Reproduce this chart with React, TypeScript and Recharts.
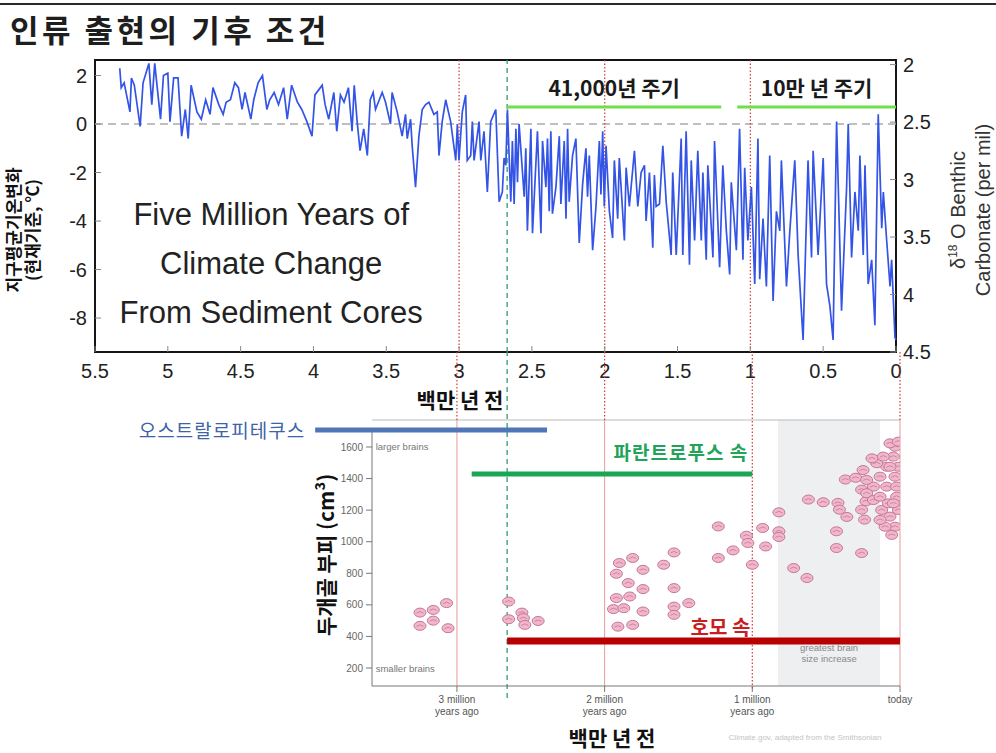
import React from 'react';
import {
  ComposedChart,
  Line,
  Scatter,
  XAxis,
  YAxis,
  ReferenceLine,
  ReferenceArea,
  ReferenceDot
} from 'recharts';

const SANS = '"Liberation Sans", Arial, sans-serif';
const KR = '"Noto Sans CJK KR", sans-serif';

// 퇴적물 코어 기록: [백만 년 전, 기온 변화 ℃]
const recordEarly: [number, number][] = [
  [5.33, 2.3], [5.32, 1.5], [5.3, 1.7], [5.26, 0.5], [5.25, 1.9], [5.23, 1.6], [5.19, -0.1], [5.17, 1.7],
  [5.13, 2.5], [5.11, 0.8], [5.09, 2.5], [5.05, 0.2], [5.03, 2.0], [5.0, 2.1], [4.985, 0.1], [4.96, 1.9],
  [4.93, 1.9], [4.905, -0.5], [4.88, 0.6], [4.86, -0.6], [4.84, 1.6], [4.8, 0.5], [4.77, 0.2], [4.74, 1.0],
  [4.71, 0.4], [4.69, 1.5], [4.65, 0.8], [4.62, 0.4], [4.6, 0.9], [4.57, 1.0], [4.54, 1.7], [4.515, 1.5],
  [4.49, 0.6], [4.47, 1.3], [4.43, 0.2], [4.41, 1.0], [4.38, 1.7], [4.35, 2.0], [4.32, 0.6], [4.3, 1.0],
  [4.27, 1.3], [4.24, 0.8], [4.205, 1.5], [4.18, 0.2], [4.15, 1.6], [4.11, 0.9], [4.08, 0.6], [4.045, 0.1],
  [4.01, -0.5], [3.99, 1.2], [3.94, 1.6], [3.92, 0.8], [3.895, 0.2], [3.86, 1.3], [3.84, -0.3], [3.815, 1.2],
  [3.79, 0.9], [3.76, 1.5], [3.735, -0.3], [3.72, 1.6], [3.7, 0.1], [3.68, -1.1], [3.655, -0.2], [3.63, -1.3],
  [3.61, 1.0], [3.59, 1.3]
];

const recordMiddle: [number, number][] = [
  [3.574, 0.6], [3.528, 1.3], [3.505, 0.9], [3.471, 0.0], [3.46, 1.3], [3.425, 0.5], [3.391, -0.5], [3.368, 0.4],
  [3.356, -0.6], [3.333, 0.2], [3.322, -0.9], [3.299, -2.6], [3.276, -0.5], [3.253, 0.6], [3.23, 0.8], [3.207, 0.9],
  [3.173, 0.4], [3.15, 0.5], [3.138, -1.3], [3.116, 0.1], [3.092, 1.0], [3.058, 0.1], [3.023, -1.5], [3.012, 0.0],
  [3.001, -1.5], [2.978, 0.5], [2.955, 1.2], [2.944, -1.5], [2.92, -1.3], [2.909, 0.1], [2.897, -1.5], [2.863, 0.1],
  [2.851, -1.5], [2.829, -0.3], [2.806, -2.8], [2.783, 0.1], [2.748, 0.6], [2.725, -3.2], [2.703, -2.8], [2.691, -1.4],
  [2.679, -1.7], [2.668, 0.6], [2.645, -3.2], [2.634, -0.7], [2.622, -3.3], [2.61, -0.2], [2.599, -2.4], [2.588, 0.0],
  [2.553, -3.0], [2.542, -1.0], [2.531, -4.4], [2.507, -0.2], [2.496, -4.5], [2.462, -0.3], [2.438, -4.5], [2.427, -0.7],
  [2.404, -2.6], [2.393, -0.6], [2.381, -3.6], [2.37, -0.3], [2.359, -3.7], [2.335, -2.6], [2.312, -0.5], [2.301, -3.3],
  [2.278, -0.7], [2.266, -3.9], [2.255, -0.2], [2.244, -3.2], [2.221, -1.3], [2.198, -0.6], [2.175, -4.9], [2.152, -2.5],
  [2.129, -1.0], [2.118, -3.0], [2.106, -1.3], [2.083, -5.2], [2.06, -3.4], [2.037, -0.7], [2.026, -2.9], [2.014, -0.3],
  [2.003, -3.4], [1.991, -0.9], [1.968, -3.6], [1.946, -4.7], [1.934, -1.5], [1.911, -3.9], [1.9, -1.4], [1.865, -4.8],
  [1.853, -1.8], [1.831, -3.4], [1.796, -1.1], [1.773, -3.4]
];

const recordLate: [number, number][] = [
  [1.75, -2.0], [1.727, -1.7], [1.716, -4.0], [1.693, -2.0], [1.67, -5.1], [1.659, -2.1], [1.647, -3.4], [1.624, -3.3],
  [1.601, -0.9], [1.578, -3.2], [1.544, -5.4], [1.533, -2.0], [1.509, -5.4], [1.475, -0.6], [1.464, -5.4], [1.441, -0.3],
  [1.418, -5.8], [1.406, -1.5], [1.383, -4.8], [1.361, -1.1], [1.337, -4.8], [1.326, -2.0], [1.303, -5.6], [1.292, -1.7],
  [1.257, -5.5], [1.246, -0.7], [1.211, -5.9], [1.189, -1.7], [1.165, -4.4], [1.142, -6.2], [1.131, -2.4], [1.096, -5.2],
  [1.074, -0.2], [1.051, -5.6], [1.039, -1.8], [1.017, -4.8], [0.993, -2.6], [0.97, -6.6], [0.948, -0.6], [0.936, -6.4],
  [0.913, -3.9], [0.89, -6.7], [0.867, -1.3], [0.844, -7.3], [0.821, -3.6], [0.798, -4.4], [0.787, -1.5], [0.752, -6.7],
  [0.73, -4.5], [0.695, -1.5], [0.672, -5.4], [0.638, -8.9], [0.604, -1.5], [0.58, -5.5], [0.569, -1.1], [0.535, -5.4],
  [0.5, -1.4], [0.477, -6.6], [0.454, -7.5], [0.432, -8.9], [0.408, 0.1], [0.374, -7.7], [0.339, -2.6], [0.328, 0.0],
  [0.305, -5.5], [0.282, -2.8], [0.259, -4.4], [0.248, -1.3], [0.225, -5.4], [0.213, -1.7], [0.191, -6.6], [0.167, -5.6],
  [0.145, -8.3], [0.122, 0.4], [0.098, -4.3], [0.087, -2.8], [0.064, -4.8], [0.041, -6.7], [0.03, -5.6], [0.007, -8.8],
  [0.0, -8.9]
];

const AGE_TICKS = [5.5, 5, 4.5, 4, 3.5, 3, 2.5, 2, 1.5, 1, 0.5, 0];
const TEMP_TICKS = [2, 0, -2, -4, -6, -8];
const D18O_TICKS = [2, 2.5, 3, 3.5, 4, 4.5];
const MILESTONES = [3, 2, 1];
const GENUS_START = 2.67;

const cycles = [
  { label: '41,000년 주기', from: 2.67, to: 1.2 },
  { label: '10만 년 주기', from: 1.09, to: 0 }
];

const COVER_LINES = ['Five Million Years of', 'Climate Change', 'From Sediment Cores'];

// 두개골 부피 화석 기록: [백만 년 전, cm³]
const australopithBrains: [number, number][] = [
  [3.25, 551], [3.16, 568], [3.07, 611], [3.25, 467], [3.16, 500], [3.06, 452],
  [2.65, 621], [2.65, 509], [2.56, 551], [2.55, 516], [2.54, 473], [2.45, 498]
];
const earlyHomoBrains: [number, number][] = [
  [1.9, 865], [1.81, 897], [1.92, 797], [1.74, 822], [1.6, 854], [1.53, 932], [1.84, 738], [1.74, 700],
  [1.53, 706], [1.92, 643], [1.83, 653], [1.94, 573], [1.87, 579], [1.74, 558], [1.53, 589], [1.53, 537],
  [1.43, 611], [1.91, 462], [1.81, 473]
];
const midHomoBrains: [number, number][] = [
  [1.23, 1097], [1.23, 897], [1.13, 945], [1.04, 1038], [1.03, 992], [1.0, 854], [0.93, 1087], [0.91, 970],
  [0.82, 1186], [0.82, 1066], [0.82, 1030], [0.72, 833], [0.63, 770],
  [0.62, 1267], [0.52, 1250], [0.42, 1246], [0.41, 1203], [0.36, 1157], [0.43, 1066], [0.43, 960], [0.26, 928],
  [0.37, 1394], [0.3, 1405], [0.26, 1330], [0.23, 1256], [0.24, 1140], [0.26, 1203]
];
const recentBrains: [number, number][] = [
  [0.034, 1602], [0.045, 1539], [0.09, 1475], [0.135, 1412], [0.18, 1349], [0.226, 1307], [0.18, 1264],
  [0.124, 1201], [0.068, 1159], [0.034, 1095], [0.056, 1043], [0.135, 1285], [0.09, 1349], [0.034, 1412],
  [0.011, 1475], [0.023, 1285], [0.079, 1243], [0.158, 1497], [0.113, 1539], [0.068, 1623], [0.011, 1634],
  [0.25, 1454], [0.19, 1528], [0.226, 1391], [0.011, 1201], [0.101, 1095], [0.135, 1138], [0.045, 1243],
  [0.023, 1349], [0.068, 1475]
];

const lineages = [
  { name: '오스트랄로피테쿠스', from: 3.96, to: 2.39 },
  { name: '파란트로푸스 속', from: 2.9, to: 1.0 },
  { name: '호모 속', from: 2.66, to: 0 }
];

const CC_TICKS = [200, 400, 600, 800, 1000, 1200, 1400, 1600];
const BRAIN_TICKS = [3, 2, 1, 0];
const BRAIN_TICK_TEXT = [
  ['3 million', 'years ago'],
  ['2 million', 'years ago'],
  ['1 million', 'years ago'],
  ['today']
];
const SIZE_NOTE = ['greatest brain', 'size increase'];

const climate = [...recordEarly, ...recordMiddle, ...recordLate].map(([ma, temp]) => ({ ma, temp }));
const brains = [...australopithBrains, ...earlyHomoBrains, ...midHomoBrains, ...recentBrains].map(
  ([ma, cc]) => ({ ma, cc })
);

const TEMP_DOMAIN: [number, number] = [-9.4, 2.64];
const CC_DOMAIN: [number, number] = [86, 1771];
const CC_TOP = 2202; // 위 그래프 아래 끝까지 이어지는 세로선

interface TagStyle {
  size: number;
  color: string;
  weight?: number | string;
  family?: string;
  anchor?: 'start' | 'middle' | 'end';
  spacing?: number;
  dx?: number;
  dy?: number;
}

const tag = (text: string, s: TagStyle) => ({
  content: (p: any) => {
    const vb = p.viewBox || {};
    const x = (vb.x || 0) + (vb.width || 0) / 2 + (s.dx || 0);
    const y = (vb.y || 0) + (vb.height || 0) / 2 + (s.dy || 0);
    return (
      <text
        x={x}
        y={y}
        textAnchor={s.anchor || 'middle'}
        dominantBaseline="central"
        fontSize={s.size}
        fill={s.color}
        fontWeight={s.weight || 'normal'}
        fontFamily={s.family || KR}
        letterSpacing={s.spacing || 0}
      >
        {text}
      </text>
    );
  }
});

const BrainMark = (props: any) => {
  const { cx, cy } = props;
  if (cx == null || cy == null) return null;
  return (
    <g>
      <ellipse cx={cx} cy={cy} rx={6} ry={4.5} fill="#f2b6cc" stroke="#c27895" strokeWidth={1} />
      <path d={`M${cx - 3.5} ${cy + 0.5} q3.5 -3 7 0`} fill="none" stroke="#c27895" strokeWidth={0.8} />
    </g>
  );
};

const BrainTick = (props: any) => {
  const { x, y, payload } = props;
  const lines = BRAIN_TICK_TEXT[BRAIN_TICKS.indexOf(payload.value)] || [];
  return (
    <text x={x} y={y + 9} textAnchor="middle" fontSize={10} fill="#555" fontFamily={SANS}>
      {lines.map((l, i) => (
        <tspan key={i} x={x} dy={i === 0 ? 0 : 12}>
          {l}
        </tspan>
      ))}
    </text>
  );
};

const RotText: React.FC<{
  cx: number;
  cy: number;
  size: number;
  weight?: number;
  family?: string;
  lineHeight: number;
  color?: string;
  children: React.ReactNode;
}> = ({ cx, cy, size, weight = 400, family = KR, lineHeight, color = '#111', children }) => (
  <div
    style={{
      position: 'absolute',
      left: cx,
      top: cy,
      transform: 'translate(-50%, -50%) rotate(-90deg)',
      whiteSpace: 'nowrap',
      textAlign: 'center',
      fontSize: size,
      fontWeight: weight,
      fontFamily: family,
      lineHeight: `${lineHeight}px`,
      color
    }}
  >
    {children}
  </div>
);

const tickFont = { fontSize: 20, fill: '#222', fontFamily: SANS };

function ClimateChart() {
  return (
    <ComposedChart width={996} height={400} data={climate} margin={{ top: 60, right: 40, bottom: 18, left: 35 }}>
      <XAxis
        type="number"
        dataKey="ma"
        domain={[0, 5.5]}
        reversed
        ticks={AGE_TICKS}
        interval={0}
        height={30}
        axisLine={false}
        tickSize={-6}
        tickMargin={18}
        tickLine={{ stroke: '#888' }}
        tick={tickFont}
      />
      <XAxis
        xAxisId="top"
        orientation="top"
        type="number"
        dataKey="ma"
        domain={[0, 5.5]}
        allowDataOverflow
        reversed
        ticks={AGE_TICKS}
        interval={0}
        height={0}
        axisLine={false}
        tick={<g />}
        tickSize={-6}
        tickLine={{ stroke: '#888' }}
      />
      <YAxis
        yAxisId="temp"
        domain={TEMP_DOMAIN}
        allowDataOverflow
        ticks={TEMP_TICKS}
        interval={0}
        width={60}
        axisLine={false}
        tickSize={-6}
        tickMargin={14}
        tickLine={{ stroke: '#888' }}
        tick={tickFont}
      />
      <YAxis
        yAxisId="d18o"
        orientation="right"
        type="number"
        domain={[1.96, 4.5]}
        allowDataOverflow
        reversed
        ticks={D18O_TICKS}
        interval={0}
        width={60}
        axisLine={false}
        tickSize={-6}
        tickMargin={13}
        tickLine={{ stroke: '#888' }}
        tick={tickFont}
      />
      <ReferenceLine yAxisId="temp" y={0} stroke="#aaa" strokeDasharray="8 5" strokeWidth={1.5} />
      {MILESTONES.map((m) => (
        <ReferenceLine key={m} yAxisId="temp" x={m} stroke="#d23b3b" strokeDasharray="1.5 2" strokeWidth={1.2} />
      ))}
      <ReferenceLine yAxisId="temp" x={GENUS_START} stroke="#2e9e6a" strokeDasharray="5 4" strokeWidth={1.3} />
      {cycles.map((c) => (
        <ReferenceLine
          key={c.label}
          yAxisId="temp"
          segment={[
            { x: c.from, y: 0.7 },
            { x: c.to, y: 0.7 }
          ]}
          stroke="#6ee04a"
          strokeWidth={3}
        />
      ))}
      <Line
        yAxisId="temp"
        dataKey="temp"
        stroke="#3354e6"
        strokeWidth={1.7}
        dot={false}
        isAnimationActive={false}
      />
      {cycles.map((c) => (
        <ReferenceDot
          key={c.label}
          yAxisId="temp"
          x={(c.from + c.to) / 2}
          y={0.7}
          r={0}
          fill="none"
          stroke="none"
          label={tag(c.label, { size: 21, color: '#1a1a1a', weight: 700, dy: -20 })}
        />
      ))}
      {COVER_LINES.map((line, i) => (
        <ReferenceDot
          key={line}
          yAxisId="temp"
          x={4.29}
          y={-3.75 - i * 2.02}
          r={0}
          fill="none"
          stroke="none"
          label={tag(line, { size: 31, color: '#222', family: SANS })}
        />
      ))}
      <ReferenceArea
        yAxisId="temp"
        x1={0}
        x2={5.5}
        y1={TEMP_DOMAIN[0]}
        y2={TEMP_DOMAIN[1]}
        fill="none"
        stroke="#151515"
        strokeWidth={2}
      />
    </ComposedChart>
  );
}

function BrainChart() {
  const [austral, paran, homo] = lineages;
  return (
    <ComposedChart width={996} height={753} margin={{ top: 420, right: 96, bottom: 27, left: 322 }}>
      <XAxis
        type="number"
        dataKey="ma"
        domain={[0, 3.575]}
        allowDataOverflow
        reversed
        ticks={BRAIN_TICKS}
        interval={0}
        height={40}
        axisLine={{ stroke: '#777' }}
        tickLine={{ stroke: '#777' }}
        tickSize={6}
        tick={<BrainTick />}
      />
      <YAxis
        type="number"
        dataKey="cc"
        domain={CC_DOMAIN}
        allowDataOverflow
        ticks={CC_TICKS}
        interval={0}
        width={50}
        axisLine={false}
        tickLine={{ stroke: '#777' }}
        tickSize={6}
        tickMargin={3}
        tick={{ fontSize: 10, fill: '#666', fontFamily: SANS }}
      />
      <ReferenceArea x1={0.826} x2={0.135} y1={CC_DOMAIN[0]} y2={CC_DOMAIN[1]} fill="#eeeff1" fillOpacity={1} stroke="none" />
      <ReferenceLine y={CC_DOMAIN[1]} stroke="#bbb" strokeWidth={1} />
      <ReferenceLine
        segment={[
          { x: 3.575, y: CC_DOMAIN[0] },
          { x: 3.575, y: 1695 }
        ]}
        stroke="#777"
      />
      {[3, 2, 0].map((m) => (
        <ReferenceLine
          key={`s${m}`}
          segment={[
            { x: m, y: CC_DOMAIN[0] },
            { x: m, y: CC_DOMAIN[1] }
          ]}
          stroke="#e79a9a"
          strokeWidth={1}
        />
      ))}
      {[3, 2, 0].map((m) => (
        <ReferenceLine
          key={`d${m}`}
          ifOverflow="visible"
          segment={[
            { x: m, y: CC_DOMAIN[1] },
            { x: m, y: CC_TOP }
          ]}
          stroke="#d23b3b"
          strokeDasharray="1.5 2"
          strokeWidth={1.2}
        />
      ))}
      <ReferenceLine
        ifOverflow="visible"
        segment={[
          { x: 1, y: 70 },
          { x: 1, y: CC_TOP }
        ]}
        stroke="#d23b3b"
        strokeDasharray="1.5 2"
        strokeWidth={1.2}
      />
      <ReferenceLine
        ifOverflow="visible"
        segment={[
          { x: 2.66, y: 10 },
          { x: 2.66, y: CC_TOP }
        ]}
        stroke="#2e9e6a"
        strokeDasharray="5 4"
        strokeWidth={1.3}
      />
      <ReferenceDot x={3.55} y={1600} r={0} fill="none" stroke="none"
        label={tag('larger brains', { size: 9.5, color: '#777', family: SANS, anchor: 'start' })} />
      <ReferenceDot x={3.55} y={200} r={0} fill="none" stroke="none"
        label={tag('smaller brains', { size: 9.5, color: '#777', family: SANS, anchor: 'start' })} />
      {SIZE_NOTE.map((line, i) => (
        <ReferenceDot key={line} x={0.48} y={333 - i * 70} r={0} fill="none" stroke="none"
          label={tag(line, { size: 9.5, color: '#888', family: SANS })} />
      ))}
      <Scatter data={brains} dataKey="cc" shape={BrainMark} isAnimationActive={false} />
      <ReferenceLine
        ifOverflow="visible"
        segment={[
          { x: austral.from, y: 1708 },
          { x: austral.to, y: 1708 }
        ]}
        stroke="#5076b8"
        strokeWidth={5}
      />
      <ReferenceLine
        segment={[
          { x: paran.from, y: 1429 },
          { x: paran.to, y: 1429 }
        ]}
        stroke="#1aa655"
        strokeWidth={5}
      />
      <ReferenceLine
        segment={[
          { x: homo.from, y: 371 },
          { x: homo.to, y: 371 }
        ]}
        stroke="#b80000"
        strokeWidth={7}
      />
      <ReferenceDot ifOverflow="visible" x={austral.from} y={1708} r={0} fill="none" stroke="none"
        label={tag(austral.name, { size: 19, color: '#3e63a8', anchor: 'end', dx: -10, spacing: 1 })} />
      <ReferenceDot x={paran.to} y={1429} r={0} fill="none" stroke="none"
        label={tag(paran.name, { size: 19, color: '#22a35a', weight: 700, anchor: 'end', dx: -4, dy: -22, spacing: 1 })} />
      <ReferenceDot x={1} y={371} r={0} fill="none" stroke="none"
        label={tag(homo.name, { size: 20, color: '#c81e1e', weight: 700, anchor: 'end', dx: -2, dy: -15 })} />
    </ComposedChart>
  );
}

const axisTitle = {
  position: 'absolute' as const,
  transform: 'translate(-50%, -50%)',
  fontFamily: KR,
  fontWeight: 700,
  fontSize: 21,
  lineHeight: '24px',
  whiteSpace: 'nowrap' as const,
  color: '#111'
};

export default function App() {
  return (
    <div
      style={{
        position: 'absolute',
        left: 0,
        top: 0,
        width: 996,
        height: 753,
        background: '#fff',
        overflow: 'hidden'
      }}
    >
      <div style={{ position: 'absolute', left: 0, top: 3, width: 996, height: 2, background: '#2a2a2a' }} />
      <div
        style={{
          position: 'absolute',
          left: 10,
          top: 11,
          fontFamily: KR,
          fontWeight: 700,
          fontSize: 31,
          letterSpacing: 3.5,
          lineHeight: '36px',
          color: '#1e1e1e',
          whiteSpace: 'nowrap'
        }}
      >
        인류 출현의 기후 조건
      </div>
      <div style={{ position: 'absolute', left: 0, top: 0 }}>
        <ClimateChart />
      </div>
      <div style={{ position: 'absolute', left: 0, top: 0 }}>
        <BrainChart />
      </div>
      <RotText cx={22} cy={230} size={17} weight={700} lineHeight={19}>
        지구평균기온변화
        <br />
        (현재기준, ℃)
      </RotText>
      <RotText cx={971} cy={210} size={20} family={SANS} lineHeight={25} color="#333">
        <span>
          δ<span style={{ fontSize: 12, verticalAlign: 'super', lineHeight: 0 }}>18</span> O Benthic
        </span>
        <br />
        Carbonate (per mil)
      </RotText>
      <RotText cx={325} cy={555} size={21} weight={700} lineHeight={24}>
        두개골 부피 (cm³)
      </RotText>
      <div style={{ ...axisTitle, left: 460, top: 399 }}>백만 년 전</div>
      <div style={{ ...axisTitle, left: 612, top: 737 }}>백만 년 전</div>
      <div
        style={{
          position: 'absolute',
          left: 805,
          top: 737,
          transform: 'translate(-50%, -50%)',
          fontFamily: SANS,
          fontSize: 8,
          whiteSpace: 'nowrap',
          color: '#c4c4c4'
        }}
      >
        Climate.gov, adapted from the Smithsonian
      </div>
    </div>
  );
}
